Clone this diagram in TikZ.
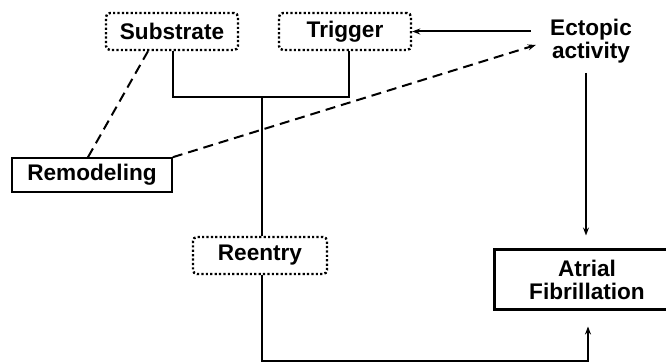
\documentclass[tikz,border=0pt]{standalone}
\usepackage{fontspec}
\setmainfont{Liberation Sans}
\usetikzlibrary{arrows.meta}
\begin{document}
\begin{tikzpicture}[x=0.5pt,y=-0.5pt,
  every node/.style={font=\fontsize{11.3}{11.5}\selectfont\bfseries, inner sep=0pt, align=center},
  dotbox/.style={draw, line width=1.2pt, dash pattern=on 1.1pt off 1.1pt, rounded corners=2pt, minimum height=18.5pt},
  plainbox/.style={draw, line width=0.8pt, minimum width=80pt, minimum height=17pt},
  thickbox/.style={draw, line width=1.5pt, minimum width=93pt, minimum height=30pt},
  conn/.style={line width=1.1pt},
  arr/.style={line width=1pt, -{Stealth[length=4pt,width=3pt]}},
  dashconn/.style={line width=1pt, dash pattern=on 5pt off 3pt}]
\useasboundingbox (0,0) rectangle (666,362);
\clip (0,0) rectangle (666,362);
\node[dotbox, minimum width=66pt] (sub) at (172,31.5) {Substrate};
\node[dotbox, minimum width=66pt] (trig) at (345,31.5) {Trigger};
\node (ect) at (591,41) {Ectopic\\activity};
\node[plainbox] (rem) at (92,175) {Remodeling};
\node[dotbox, minimum width=67pt] (reen) at (260,255.5) {Reentry};
\node[thickbox] (af) at (587,280) {Atrial\\Fibrillation};
\coordinate (j) at (262,97);
\coordinate (b) at (262,361);
\coordinate (e1) at (586,73);
% ectopic -> trigger
\draw[arr] ([xshift=-9.5pt]ect.west |- trig.east) -- (trig.east);
% remodeling -> ectopic (dashed)
\draw[dashconn, -{Stealth[length=4pt,width=3pt]}] (rem.north east) -- ([xshift=-7pt,yshift=-2pt]ect.west);
% remodeling -- substrate (dashed)
\draw[dashconn] ([xshift=-2pt]rem.north) -- ([xshift=-12pt]sub.south);
% substrate/trigger bracket
\draw[conn] ([xshift=0.5pt]sub.south) |- (j) -| ([xshift=2pt]trig.south);
\draw[conn] (j) -- (j |- reen.north);
% reentry -> AF
\draw[arr] (j |- reen.south) -- (b) -| ([xshift=0.5pt,yshift=-7.5pt]af.south);
% ectopic -> AF
\draw[arr] (e1) -- ([xshift=-0.5pt,yshift=6.5pt]af.north);
\end{tikzpicture}
\end{document}
